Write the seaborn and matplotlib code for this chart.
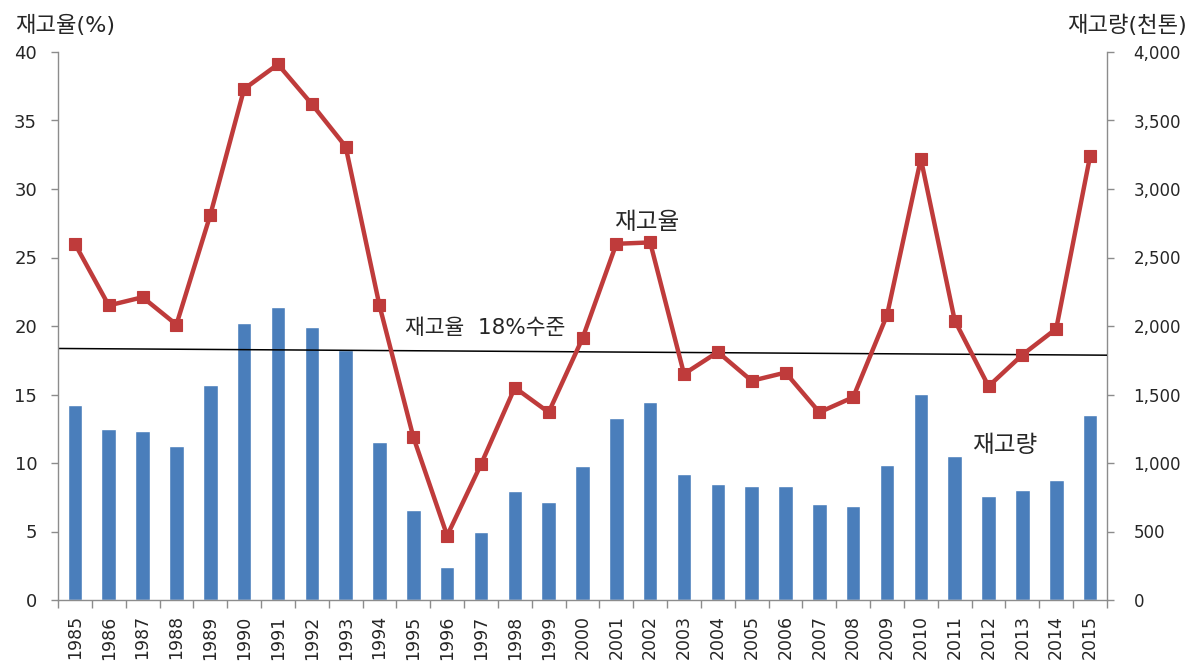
import matplotlib
matplotlib.use("Agg")
import matplotlib.pyplot as plt
import seaborn as sns
from matplotlib.ticker import FuncFormatter, FixedLocator, MultipleLocator

# Annual rice stock data, 1985-2015
years = ["1985", "1986", "1987", "1988", "1989", "1990", "1991", "1992",
         "1993", "1994", "1995", "1996", "1997", "1998", "1999", "2000",
         "2001", "2002", "2003", "2004", "2005", "2006", "2007", "2008",
         "2009", "2010", "2011", "2012", "2013", "2014", "2015"]

# stock-to-use ratio (%) - left axis
stock_ratio = [26.0, 21.5, 22.1, 20.1, 28.1, 37.3, 39.1, 36.2, 33.1, 21.5,
               11.9, 4.7, 9.9, 15.5, 13.7, 19.1, 26.0, 26.1, 16.5, 18.1,
               16.0, 16.6, 13.7, 14.8, 20.8, 32.2, 20.4, 15.6, 17.9, 19.8,
               32.4]

# ending stock volume (thousand tonnes) - right axis
stock_volume = [1424, 1246, 1237, 1122, 1570, 2023, 2140, 1994, 1822, 1154,
                654, 238, 496, 798, 715, 976, 1329, 1446, 923, 849,
                830, 830, 698, 687, 989, 1504, 1052, 758, 802, 875,
                1354]

# reference level line (start / end values on the ratio axis)
level_line = [18.36, 17.87]

BLUE = "#4A7EBB"
RED = "#BF3B3B"
TEXT = "#262626"
AXIS = "#8C8C8C"

sns.set_theme(style="white")
plt.rcParams["font.family"] = ["DejaVu Sans", "Noto Sans CJK KR"]

fig = plt.figure(figsize=(11.95, 6.61), dpi=100)
ax = fig.add_axes([58 / 1195, 61 / 661, (1107 - 58) / 1195, (600 - 52) / 661])
ax2 = ax.twinx()

# bars: stock volume on the right axis
sns.barplot(x=years, y=stock_volume, ax=ax2, color=BLUE, width=0.43,
            saturation=1, errorbar=None)

# line: stock ratio on the left axis, drawn above the bars
ax.set_zorder(ax2.get_zorder() + 1)
ax.patch.set_visible(False)
ax.plot([-0.5, len(years) - 0.5], level_line, color="black", lw=1.1, zorder=1)
sns.pointplot(x=years, y=stock_ratio, ax=ax, color=RED, markers="s",
              markersize=8, markeredgewidth=0.8, linewidth=3.2, errorbar=None)

ax.set_xlim(-0.5, len(years) - 0.5)
ax.set_ylim(0, 40)
ax2.set_ylim(0, 4000)
ax.yaxis.set_major_locator(MultipleLocator(5))
ax2.yaxis.set_major_locator(MultipleLocator(500))
ax2.yaxis.set_major_formatter(FuncFormatter(lambda v, p: f"{int(v):,}"))

for a in (ax, ax2):
    a.set_xlabel("")
    a.set_ylabel("")
    a.grid(False)
    a.spines["top"].set_visible(False)
    for side in ("left", "right", "bottom"):
        a.spines[side].set_color(AXIS)
        a.spines[side].set_linewidth(1.0)

ax.spines["right"].set_visible(False)
ax2.spines["left"].set_visible(False)
ax2.spines["bottom"].set_visible(False)

# x axis: labels centred on bars, tick marks between categories
ax.xaxis.set_major_locator(FixedLocator(range(len(years))))
ax.set_xticklabels(years, rotation=90, fontsize=12.5, color=TEXT)
ax.xaxis.set_minor_locator(FixedLocator([i - 0.5 for i in range(len(years) + 1)]))
ax.tick_params(axis="x", which="major", length=0, pad=11)
ax.tick_params(axis="x", which="minor", length=6, color=AXIS, width=1,
               direction="out", bottom=True)

ax.tick_params(axis="y", which="major", length=5, color=AXIS, width=1,
               direction="out", left=True, labelsize=13, labelcolor=TEXT, pad=10)
ax2.tick_params(axis="y", which="major", length=5, color=AXIS, width=1,
                direction="out", right=True, labelsize=12, labelcolor=TEXT, pad=14)

# axis titles
fig.text(15 / 1195, 1 - 25 / 661, "재고율(%)", fontsize=16, color=TEXT,
         ha="left", va="center")
fig.text(1187 / 1195, 1 - 25 / 661, "재고량(천톤)", fontsize=16, color=TEXT,
         ha="right", va="center")

# series annotations
ax.text(16.9, 27.6, "재고율", fontsize=17, color=TEXT, ha="center", va="center")
ax.text(9.75, 19.85, "재고율  18%수준", fontsize=15.5, color=TEXT,
        ha="left", va="center")
ax.text(26.5, 11.3, "재고량", fontsize=17, color=TEXT, ha="left", va="center")

fig.savefig("out.png", dpi=100)
